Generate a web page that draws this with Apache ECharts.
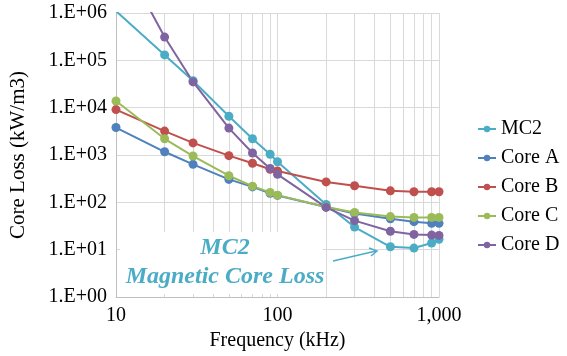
<!DOCTYPE html>
<html>
<head>
<meta charset="utf-8">
<script src="https://cdn.jsdelivr.net/npm/echarts@6/dist/echarts.min.js"></script>
<style>
  html, body { margin: 0; padding: 0; background: #fff; }
  #main { width: 567px; height: 356px; }
</style>
</head>
<body>
<div id="main"></div>
<script>
// frequency points (kHz)
const freqs = [10, 20, 30, 50, 70, 90, 100, 200, 300, 500, 700, 900, 1000];

// core loss (kW/m3)
const mc2   = [1100000, 130000, 37000, 6600, 2200, 1040, 720, 90, 30, 11.5, 10.8, 13.8, 16.6];
const coreA = [3800, 1170, 635, 305, 212, 155, 140, 80, 58, 45, 39, 36, 36];
const coreB = [9100, 3200, 1800, 970, 670, 500, 460, 270, 224, 175, 167, 167, 167];
const coreC = [13800, 2200, 950, 365, 220, 162, 142, 80, 61, 50, 48, 48, 48];
const coreD = [25000000, 310000, 35000, 3700, 1100, 520, 390, 78, 41, 24.5, 21, 20.3, 20];

const seriesNames = ['MC2', 'Core A', 'Core B', 'Core C', 'Core D'];
const colors = ['#4bacc6', '#4f81bd', '#c0504d', '#9bbb59', '#8064a2'];
const allData = [mc2, coreA, coreB, coreC, coreD];

const FONT = 'Liberation Serif';

const mkSeries = (name, vals, color) => {
  return {
    name: name,
    type: 'line',
    data: freqs.map((f, i) => [f, vals[i]]),
    symbol: 'circle',
    symbolSize: 9,
    clip: true,
    itemStyle: { color: color },
    lineStyle: { color: color, width: 2 },
    emphasis: { disabled: true }
  };
};

const getOption = () =>
{
  return {
    animation: false,
    color: colors,
    grid: { left: 115, right: 128, top: 13, bottom: 59 },
    legend: {
      orient: 'vertical',
      left: 472,
      top: 114,
      itemGap: 9,
      itemWidth: 18,
      itemHeight: 8,
      textStyle: { fontFamily: FONT, fontSize: 20, color: '#000', lineHeight: 20 },
      data: seriesNames
    },
    xAxis: {
      type: 'log',
      logBase: 10,
      min: 10,
      max: 1000,
      interval: 1,
      name: 'Frequency (kHz)',
      nameLocation: 'middle',
      nameGap: 33,
      nameTextStyle: { fontFamily: FONT, fontSize: 20, color: '#000' },
      axisLine: { lineStyle: { color: '#bfbfbf' } },
      axisTick: { show: false },
      axisLabel: {
        fontFamily: FONT, fontSize: 20, color: '#000', margin: 9,
        formatter: v => Number(v).toLocaleString('en-US')
      },
      splitLine: { show: true, lineStyle: { color: '#d9d9d9', width: 1 } },
      minorTick: { show: false, splitNumber: 9 },
      minorSplitLine: { show: true, lineStyle: { color: '#d9d9d9', width: 1 } }
    },
    yAxis: {
      type: 'log',
      logBase: 10,
      min: 1,
      max: 1000000,
      interval: 1,
      name: 'Core Loss (kW/m3)',
      nameLocation: 'middle',
      nameGap: 87,
      nameTextStyle: { fontFamily: FONT, fontSize: 21, color: '#000' },
      axisLine: { show: true, lineStyle: { color: '#bfbfbf' } },
      axisTick: { show: false },
      axisLabel: {
        fontFamily: FONT, fontSize: 20, color: '#000', margin: 9,
        formatter: v => '1.E+' + String(Math.round(Math.log10(v))).padStart(2, '0')
      },
      splitLine: { show: true, lineStyle: { color: '#d9d9d9', width: 1 } }
    },
    series: seriesNames.map((n, i) => mkSeries(n, allData[i], colors[i])),
    graphic: [
      {
        type: 'rect',
        shape: { x: 120, y: 232, width: 203, height: 62 },
        style: { fill: '#fff' },
        z: 10
      },
      {
        type: 'text',
        x: 225, y: 248,
        style: {
          text: 'MC2', fill: '#4bacc6',
          font: 'italic bold 24px "Liberation Serif"',
          align: 'center', verticalAlign: 'middle'
        },
        z: 11
      },
      {
        type: 'text',
        x: 225, y: 277,
        style: {
          text: 'Magnetic Core Loss', fill: '#4bacc6',
          font: 'italic bold 24px "Liberation Serif"',
          align: 'center', verticalAlign: 'middle'
        },
        z: 11
      },
      {
        type: 'line',
        shape: { x1: 333, y1: 261, x2: 376, y2: 251 },
        style: { stroke: '#4bacc6', lineWidth: 1.5 },
        z: 11
      },
      {
        type: 'polyline',
        shape: { points: [[369, 248], [377, 251], [371, 256]] },
        style: { stroke: '#4bacc6', lineWidth: 1.5, fill: null },
        z: 11
      }
    ]
  };
};

const initCharts = () =>
{
  const chart = echarts.init(document.getElementById('main'));
  chart.setOption(getOption());
};

window.addEventListener('load', () => { initCharts(); });
</script>
</body>
</html>
